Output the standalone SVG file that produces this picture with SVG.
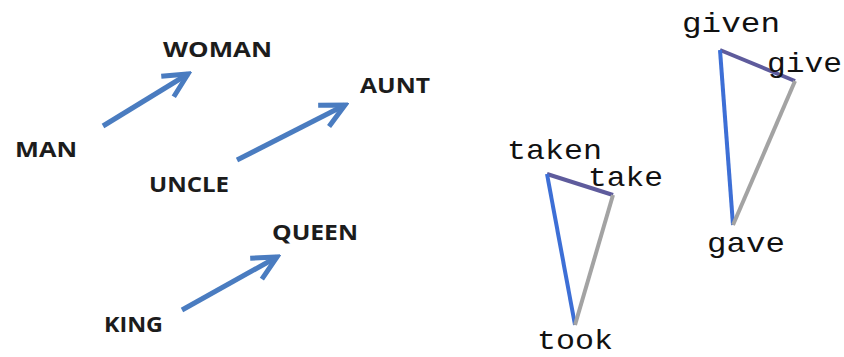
<svg xmlns="http://www.w3.org/2000/svg" width="844" height="357" viewBox="0 0 844 357">
<style>
.lbl{font-family:"Open Sans","Liberation Sans",sans-serif;font-weight:bold;font-size:21px;fill:#1c1c1c}
.mono{font-family:"Liberation Mono","Courier New",monospace;font-size:28px;fill:#111}
.arr{stroke:#4a7cc0;stroke-width:5;fill:none}
.blue{stroke:#3d6fd6;stroke-width:4;fill:none}
.purp{stroke:#5e5b9c;stroke-width:4;fill:none}
.gray{stroke:#a3a3a3;stroke-width:4;fill:none}
</style>
<defs>
<marker id="head" markerUnits="userSpaceOnUse" viewBox="-30 -15 34 30" refX="0" refY="0" markerWidth="34" markerHeight="30" orient="auto">
<path d="M-24,-12 L0,0 L-24,12" fill="none" stroke="#4a7cc0" stroke-width="5"/>
</marker>
</defs>
<rect width="844" height="357" fill="#fff"/>
<g id="connectors">
<line class="arr" x1="103" y1="126" x2="188" y2="74" marker-end="url(#head)"/>
<line class="arr" x1="237" y1="160" x2="345" y2="105" marker-end="url(#head)"/>
<line class="arr" x1="182" y1="310" x2="277" y2="257" marker-end="url(#head)"/>
<line class="purp" x1="720" y1="50" x2="795" y2="81"/>
<line class="blue" x1="720" y1="50" x2="733" y2="225"/>
<line class="gray" x1="795" y1="81" x2="733" y2="225"/>
<line class="purp" x1="547" y1="174" x2="613" y2="195"/>
<line class="blue" x1="547" y1="174" x2="575" y2="325"/>
<line class="gray" x1="613" y1="195" x2="575" y2="325"/>
</g>
<g id="MAN"><text class="lbl" x="15" y="157" textLength="62" lengthAdjust="spacingAndGlyphs">MAN</text></g>
<g id="WOMAN"><text class="lbl" x="163" y="57" textLength="109" lengthAdjust="spacingAndGlyphs">WOMAN</text></g>
<g id="UNCLE"><text class="lbl" x="149" y="192" textLength="80" lengthAdjust="spacingAndGlyphs">UNCLE</text></g>
<g id="AUNT"><text class="lbl" x="360" y="93" textLength="70" lengthAdjust="spacingAndGlyphs">AUNT</text></g>
<g id="KING"><text class="lbl" x="104" y="332" textLength="59" lengthAdjust="spacingAndGlyphs">KING</text></g>
<g id="QUEEN"><text class="lbl" x="272" y="240" textLength="86" lengthAdjust="spacingAndGlyphs">QUEEN</text></g>
<g id="given"><text class="mono" x="682" y="32" textLength="98" lengthAdjust="spacingAndGlyphs">given</text></g>
<g id="give"><text class="mono" x="767" y="72" textLength="75" lengthAdjust="spacingAndGlyphs">give</text></g>
<g id="gave"><text class="mono" x="707" y="252" textLength="78" lengthAdjust="spacingAndGlyphs">gave</text></g>
<g id="taken"><text class="mono" x="507" y="159" textLength="95" lengthAdjust="spacingAndGlyphs">taken</text></g>
<g id="take"><text class="mono" x="588" y="186" textLength="75" lengthAdjust="spacingAndGlyphs">take</text></g>
<g id="took"><text class="mono" x="537" y="349" font-size="27" textLength="76" lengthAdjust="spacingAndGlyphs">took</text></g>
</svg>
